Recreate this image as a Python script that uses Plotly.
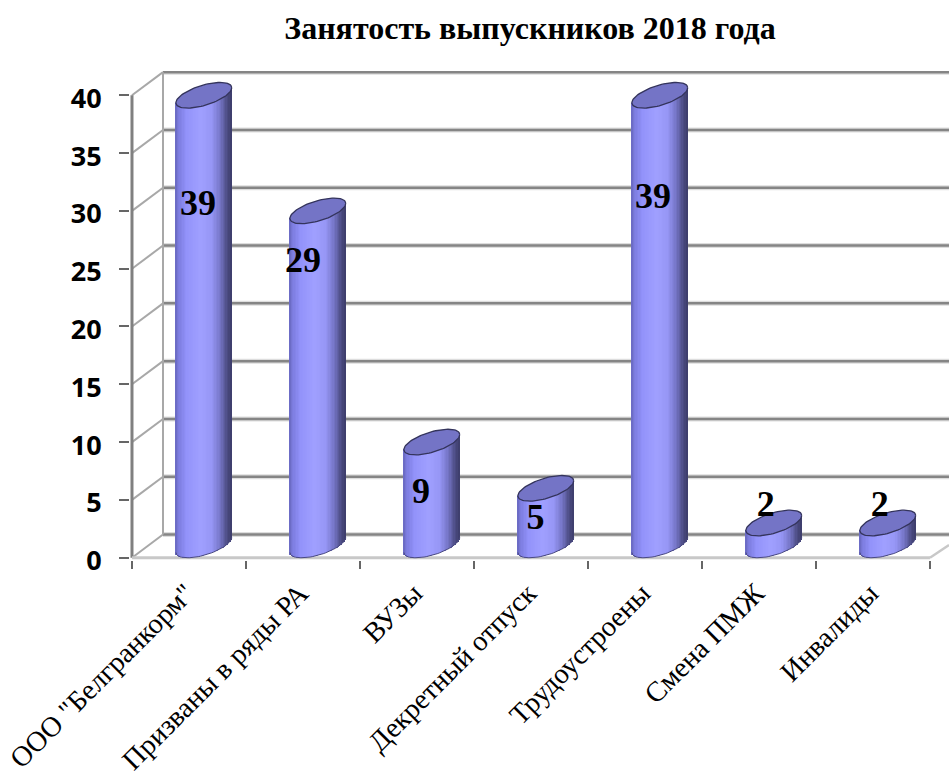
import numpy as np
import plotly.graph_objects as go

# ---- data ----
categories = ['ООО "Белгранкорм"', 'Призваны в ряды РА', 'ВУЗы', 'Декретный отпуск',
              'Трудоустроены', 'Смена ПМЖ', 'Инвалиды']
values = [39, 29, 9, 5, 39, 2, 2]
y_ticks = [0, 5, 10, 15, 20, 25, 30, 35, 40]
title_text = 'Занятость выпускников 2018 года'

# ---- pseudo-3D style constants (axis units) ----
DEPTH_X = 0.272
DEPTH_Y = 2.0
X_LEFT = -0.5
X_FLOOR_END = 6.5
X_MAX = 6.667
BAR_SHIFT = 0.13
BAR_HALF = 0.245
TILT = 0.65
MINOR = 0.90
MID_TOP = 1.0
MID_BOTTOM = 1.1
N = 40
SERIF = 'Liberation Serif'
label_dx = [-0.05, -0.13, -0.095, -0.09, -0.06, -0.07, -0.07]
label_y = [30.45, 25.45, 5.55, 3.25, 31.05, 4.35, 4.35]

us_edges = np.linspace(-1, 1, N + 1)
us = (us_edges[:-1] + us_edges[1:]) / 2


def shade(u):
    pts = [-1, -0.9, -0.6, -0.1, 0.3, 0.6, 0.85, 1]
    r = np.interp(u, pts, [104, 122, 146, 160, 150, 118, 78, 60])
    g = np.interp(u, pts, [104, 122, 146, 160, 150, 118, 78, 60])
    b = np.interp(u, pts, [190, 220, 250, 255, 245, 200, 135, 105])
    return f'rgb({r:.0f},{g:.0f},{b:.0f})'


bx, bbase, bh, bc = [], [], [], []
for i, v in enumerate(values):
    for u in us:
        low = MID_BOTTOM + TILT * u - MINOR * np.sqrt(1 - u * u)
        top = v + MID_TOP + TILT * u
        bx.append(i + BAR_SHIFT + u * BAR_HALF)
        bbase.append(max(low, 0))
        bh.append(top - max(low, 0))
        bc.append(shade(u))

fig = go.Figure()
fig.add_trace(go.Bar(x=bx, y=bh, base=bbase, width=2 * BAR_HALF / N * 1.25,
                     marker=dict(color=bc, line=dict(width=0)),
                     hoverinfo='skip', showlegend=False))

t = np.linspace(0, 2 * np.pi, 80)
for i, v in enumerate(values):
    c = np.cos(t)
    ex = i + BAR_SHIFT + BAR_HALF * c
    ey = v + MID_TOP + TILT * c + MINOR * np.sin(t)
    fig.add_trace(go.Scatter(x=ex, y=ey, mode='lines', fill='toself', fillcolor='#7474c6',
                             line=dict(color='#34345c', width=1.3),
                             hoverinfo='skip', showlegend=False))
    lt = np.linspace(np.pi, 2 * np.pi, 40)
    c2 = np.cos(lt)
    fig.add_trace(go.Scatter(x=i + BAR_SHIFT + BAR_HALF * c2,
                             y=np.maximum(MID_BOTTOM + TILT * c2 + MINOR * np.sin(lt), 0),
                             mode='lines', line=dict(color='#4a4a80', width=1),
                             hoverinfo='skip', showlegend=False))

fig.add_trace(go.Scatter(x=[i + BAR_SHIFT + d for i, d in enumerate(label_dx)], y=label_y,
                         mode='text', text=[str(v) for v in values],
                         textposition='middle center',
                         textfont=dict(family=SERIF, size=36, color='black', weight='bold'),
                         hoverinfo='skip', showlegend=False))

shapes = []


def seg(x0, y0, x1, y1, color, width):
    shapes.append(dict(type='line', xref='x', yref='y', x0=x0, y0=y0, x1=x1, y1=y1,
                       layer='below', line=dict(color=color, width=width)))


for y in y_ticks:
    seg(X_LEFT + DEPTH_X, y + DEPTH_Y, X_MAX, y + DEPTH_Y, '#dddddd', 5)
for y in y_ticks:
    seg(X_LEFT, y, X_LEFT + DEPTH_X, y + DEPTH_Y, '#a8a8a8', 2)
    seg(X_LEFT + DEPTH_X, y + DEPTH_Y, X_MAX, y + DEPTH_Y, '#858585', 2.5)
seg(X_LEFT, 0, X_LEFT, y_ticks[-1], '#808080', 3)
seg(X_LEFT + DEPTH_X, DEPTH_Y, X_LEFT + DEPTH_X, y_ticks[-1] + DEPTH_Y, '#a8a8a8', 2)
seg(X_LEFT, 0, X_FLOOR_END, 0, '#c8c8c8', 3)
seg(X_FLOOR_END, 0, X_MAX, 1.1, '#c8c8c8', 2.5)

fig.update_layout(
    width=949, height=773, autosize=False,
    margin=dict(l=130, r=0, t=71, b=213, pad=0),
    paper_bgcolor='white', plot_bgcolor='white',
    barmode='overlay', bargap=0, showlegend=False, shapes=shapes,
    title=dict(text=title_text, x=530 / 949, xref='container', xanchor='center',
               y=1 - 28 / 773, yref='container', yanchor='middle',
               font=dict(family=SERIF, size=32, color='black', weight='bold')),
    xaxis=dict(range=[-0.5175, X_MAX], tickmode='array', tickvals=list(range(len(categories))),
               ticktext=categories, tickangle=-45, ticks='', showgrid=False, zeroline=False,
               showline=False, automargin=False, ticklabelstandoff=10, ticklabelshift=-3,
               tickfont=dict(family=SERIF, size=28.4, color='black'),
               minor=dict(tickmode='linear', tick0=-0.5, dtick=1, ticks='outside', ticklen=8,
                          tickwidth=2, tickcolor='#666666', showgrid=False)),
    yaxis=dict(range=[-0.2, 42.1], tickmode='array', tickvals=y_ticks,
               ticktext=[str(v) for v in y_ticks], ticks='outside', ticklen=10, tickwidth=2,
               tickcolor='#666666', showgrid=False, zeroline=False, showline=False,
               automargin=False, ticklabelstandoff=12, ticklabelshift=3,
               tickfont=dict(family='Open Sans', size=27, color='black', weight='bold')),
)

fig.write_html('out.html', config={'displayModeBar': False},
               post_script="document.body.style.margin='0';document.body.style.overflow='hidden';")
